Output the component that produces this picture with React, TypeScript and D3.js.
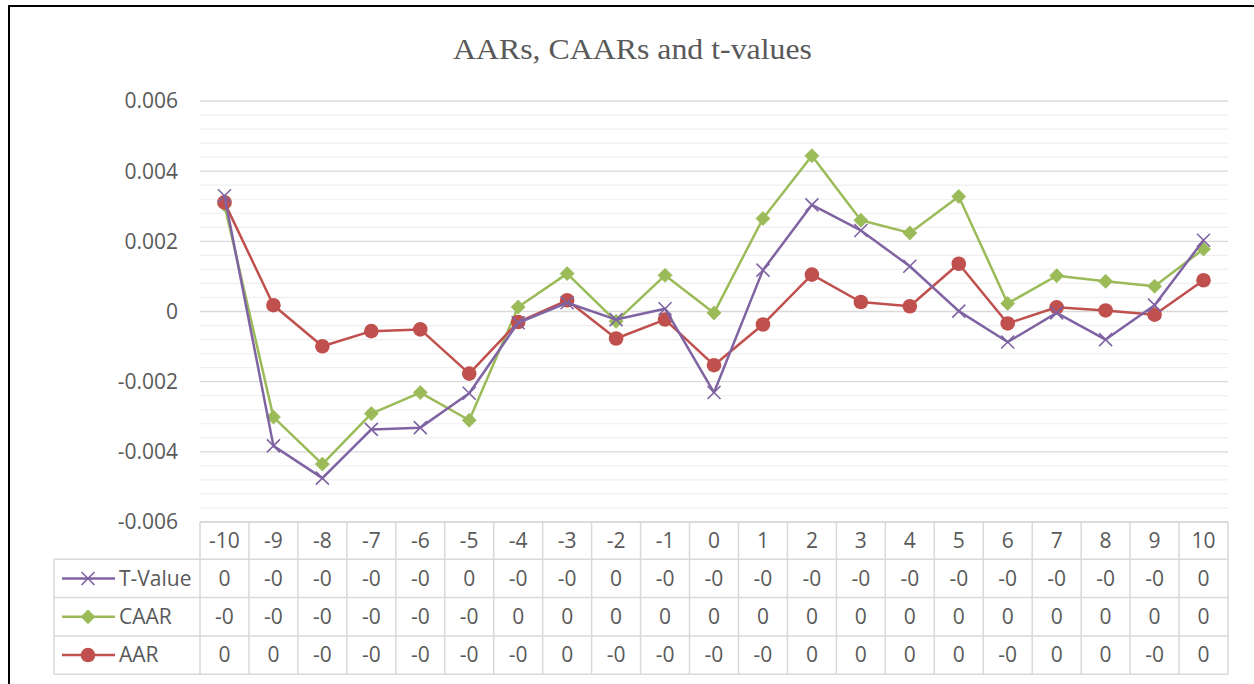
import React from "react";
import * as d3 from "d3";

const categories = ["-10","-9","-8","-7","-6","-5","-4","-3","-2","-1","0","1","2","3","4","5","6","7","8","9","10"];

const tValue = [0.00330,-0.00383,-0.00475,-0.00336,-0.00331,-0.00233,-0.00032,0.00025,-0.00023,0.00008,-0.00231,0.00118,0.00304,0.00231,0.00129,0.00001,-0.00087,-0.00004,-0.00080,0.00018,0.00203];
const caar = [0.00304,-0.00301,-0.00435,-0.00291,-0.00231,-0.00310,0.00013,0.00108,-0.00028,0.00103,-0.00004,0.00265,0.00444,0.00260,0.00224,0.00328,0.00023,0.00102,0.00086,0.00072,0.00178];
const aar = [0.00311,0.00018,-0.00099,-0.00056,-0.00051,-0.00177,-0.00030,0.00032,-0.00077,-0.00023,-0.00153,-0.00037,0.00105,0.00027,0.00015,0.00136,-0.00034,0.00012,0.00003,-0.00009,0.00089];

const tValueLabels = ["0","-0","-0","-0","-0","0","-0","-0","0","-0","-0","-0","-0","-0","-0","-0","-0","-0","-0","-0","0"];
const caarLabels = ["-0","-0","-0","-0","-0","-0","0","0","0","0","0","0","0","0","0","0","0","0","0","0","0"];
const aarLabels = ["0","0","-0","-0","-0","-0","-0","0","-0","-0","-0","-0","0","0","0","0","-0","0","0","-0","0"];

const yTicks = [0.006, 0.004, 0.002, 0, -0.002, -0.004, -0.006];
const yTickLabels = ["0.006","0.004","0.002","0","-0.002","-0.004","-0.006"];

const title = "AARs, CAARs and t-values";

const PURPLE = "#7f63a2";
const GREEN = "#9bbb59";
const RED = "#c0504d";
const TEXT = "#595959";
const FONT = "'Open Sans', sans-serif";

export default function App() {
  const left = 200, right = 1228, top = 101, bottom = 522;
  const x = d3.scaleBand<string>().domain(categories).range([left, right]).padding(0);
  const bw = x.bandwidth();
  const cx = (c: string) => (x(c) as number) + bw / 2;
  const y = d3.scaleLinear().domain([-0.006, 0.006]).range([bottom, top]);

  const minor = d3.range(-0.006, 0.00601, 0.0004).filter(v => Math.abs(Math.round(v / 0.002) * 0.002 - v) > 1e-7);

  const line = d3.line<number>().x((_, i) => cx(categories[i])).y(v => y(v));

  const rowH = 38.3;
  const headerBottom = 559.3;
  const rows = [
    { name: "T-Value", labels: tValueLabels, color: PURPLE, marker: "x" },
    { name: "CAAR", labels: caarLabels, color: GREEN, marker: "diamond" },
    { name: "AAR", labels: aarLabels, color: RED, marker: "circle" },
  ];

  const marker = (kind: string, px: number, py: number, color: string, key: string) => {
    if (kind === "x") {
      const s = 6.5;
      return (
        <path key={key} d={`M${px - s},${py - s}L${px + s},${py + s}M${px - s},${py + s}L${px + s},${py - s}`} stroke={color} strokeWidth={1.6} fill="none" />
      );
    }
    if (kind === "diamond") {
      const s = 7;
      return <path key={key} d={`M${px},${py - s}L${px + s},${py}L${px},${py + s}L${px - s},${py}Z`} fill={color} stroke={color} strokeWidth={0.8} />;
    }
    return <circle key={key} cx={px} cy={py} r={7.3} fill={color} />;
  };

  const series = [
    { data: caar, color: GREEN, marker: "diamond", name: "caar" },
    { data: aar, color: RED, marker: "circle", name: "aar" },
    { data: tValue, color: PURPLE, marker: "x", name: "t" },
  ];

  return (
    <svg width={1254} height={684} style={{ position: "absolute", left: 0, top: 0, background: "#fff" }}>
      <rect x={9} y={6} width={1300} height={720} fill="#fff" stroke="#000" strokeWidth={2} />
      <text x={632.5} y={59} textAnchor="middle" fontFamily="'Liberation Serif', 'Times New Roman', serif" fontSize={29} fill={TEXT} textLength={359} lengthAdjust="spacingAndGlyphs">{title}</text>

      {minor.map((v, i) => (
        <line key={"mn" + i} x1={left} x2={right} y1={y(v)} y2={y(v)} stroke="#efefef" strokeWidth={1.2} />
      ))}
      {yTicks.map((v, i) => (
        <line key={"mj" + i} x1={left} x2={right} y1={y(v)} y2={y(v)} stroke="#d9d9d9" strokeWidth={1.3} />
      ))}
      {yTicks.map((v, i) => (
        <text key={"yl" + i} x={178} y={y(v)} dy="0.35em" textAnchor="end" fontFamily={FONT} fontSize={21} fill={TEXT}>{yTickLabels[i]}</text>
      ))}

      {/* data table */}
      <g stroke="#d9d9d9" strokeWidth={1.5} fill="none">
        <line x1={left} x2={right} y1={bottom} y2={bottom} />
        {[0, 1, 2, 3].map(r => (
          <line key={"hr" + r} x1={54} x2={right} y1={headerBottom + r * rowH} y2={headerBottom + r * rowH} />
        ))}
        <line x1={54} x2={54} y1={headerBottom} y2={headerBottom + 3 * rowH} />
        {categories.map(c => (
          <line key={"vl" + c} x1={x(c) as number} x2={x(c) as number} y1={bottom} y2={headerBottom + 3 * rowH} />
        ))}
        <line x1={right} x2={right} y1={bottom} y2={headerBottom + 3 * rowH} />
      </g>
      {categories.map(c => (
        <text key={"hc" + c} x={cx(c)} y={(bottom + headerBottom) / 2} dy="0.35em" textAnchor="middle" fontFamily={FONT} fontSize={21} fill={TEXT}>{c}</text>
      ))}
      {rows.map((r, ri) => {
        const yc = headerBottom + ri * rowH + rowH / 2;
        return (
          <g key={"row" + ri}>
            <line x1={62} x2={115} y1={yc} y2={yc} stroke={r.color} strokeWidth={2.5} />
            {marker(r.marker, 88, yc, r.color, "lm" + ri)}
            <text x={119} y={yc} dy="0.35em" fontFamily={FONT} fontSize={21} fill={TEXT}>{r.name}</text>
            {categories.map((c, i) => (
              <text key={"cell" + ri + i} x={cx(c)} y={yc} dy="0.35em" textAnchor="middle" fontFamily={FONT} fontSize={21} fill={TEXT}>{r.labels[i]}</text>
            ))}
          </g>
        );
      })}

      {series.map(s => (
        <g key={s.name}>
          <path d={line(s.data) as string} fill="none" stroke={s.color} strokeWidth={2.5} strokeLinejoin="round" />
          {s.data.map((v, i) => marker(s.marker, cx(categories[i]), y(v), s.color, s.name + i))}
        </g>
      ))}
    </svg>
  );
}
